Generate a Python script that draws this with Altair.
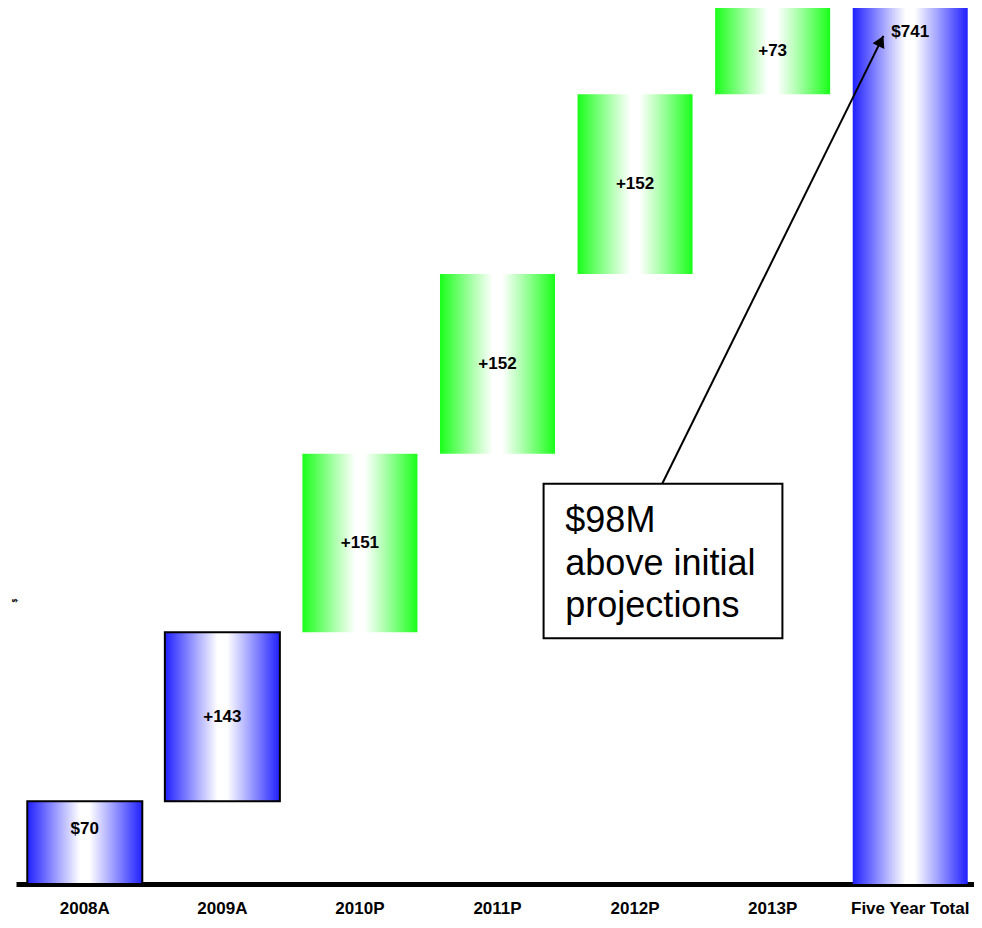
import altair as alt
import pandas as pd

# ---- data ----
categories = ["2008A", "2009A", "2010P", "2011P", "2012P", "2013P", "Five Year Total"]
bar_start = [0, 70, 213, 364, 516, 668, 0]
bar_end = [70, 213, 364, 516, 668, 741, 741]
bar_labels = ["$70", "+143", "+151", "+152", "+152", "+73", "$741"]
bar_kind = ["first", "blue", "green", "green", "green", "green", "total"]

note_lines = ["$98M", "above initial", "projections"]
note_box_x = [3.335, 5.071]
note_box_y = [207.9, 338.6]
note_text_xy = [3.493, 297.7]
arrow_x = [4.198, 5.805]
arrow_y = [338.8, 717.4]
arrow_head_xy = [5.787, 713.1]
arrow_angle = 26

df = pd.DataFrame({"cat": categories, "start": bar_start, "end": bar_end,
                   "label": bar_labels, "kind": bar_kind})

LABEL_FONT = "Liberation Sans, Arial, sans-serif"
YDOM = alt.Scale(domain=[0, 741], nice=False, zero=True)
XRANGE = [0, 963]


def grad(c, light):
    return alt.Gradient(
        gradient="linear", x1=0, x2=1, y1=0, y2=0,
        stops=[alt.GradientStop(color=c, offset=0),
               alt.GradientStop(color=light, offset=0.3),
               alt.GradientStop(color="#ffffff", offset=0.46),
               alt.GradientStop(color="#ffffff", offset=0.54),
               alt.GradientStop(color=light, offset=0.7),
               alt.GradientStop(color=c, offset=1)])


blue_grad = grad("#2020ff", "#b4b4ff")
green_grad = grad("#1aff1a", "#b4ffb4")

xscale = alt.Scale(paddingInner=0.164, paddingOuter=0.082, range=XRANGE)
xenc = alt.X("cat:N", sort=categories, scale=xscale,
             axis=alt.Axis(title=None, labelAngle=0, ticks=False, domain=True,
                           domainColor="black", domainWidth=5, labelFont=LABEL_FONT,
                           labelFontWeight="bold", labelFontSize=17, labelColor="black",
                           labelPadding=29, labelBaseline="alphabetic", grid=False))
yenc = alt.Y("start:Q", scale=YDOM,
             axis=alt.Axis(title="$", titleFontSize=7, titleFontWeight="bold",
                           labels=False, ticks=False, domain=False, grid=False,
                           titlePadding=0, titleColor="black", titleX=-2, titleY=592,
                           titleAngle=270, titleAlign="center", titleBaseline="middle"))

base = alt.Chart(df).encode(x=xenc, y=yenc, y2="end:Q")

blue_bars = base.transform_filter("datum.kind=='first' || datum.kind=='blue'").mark_bar(
    fill=blue_grad, stroke="black", strokeWidth=2)
green_bars = base.transform_filter("datum.kind=='green'").mark_bar(fill=green_grad)
total_bars = base.transform_filter("datum.kind=='total'").mark_bar(fill=blue_grad)

tbase = alt.Chart(df).transform_calculate(mid="(datum.start + datum.end) / 2")
tstyle = dict(font=LABEL_FONT, fontWeight="bold", fontSize=17, color="black", baseline="middle")
tx = alt.X("cat:N", sort=categories, scale=xscale)
text_inc = tbase.transform_filter("datum.kind=='blue' || datum.kind=='green'").mark_text(**tstyle).encode(
    x=tx, y=alt.Y("mid:Q", scale=YDOM), text="label:N")
text_first = tbase.transform_filter("datum.kind=='first'").mark_text(dy=-14, **tstyle).encode(
    x=tx, y=alt.Y("mid:Q", scale=YDOM), text="label:N")
text_total = tbase.transform_filter("datum.kind=='total'").mark_text(dy=24, **tstyle).encode(
    x=tx, y=alt.Y("end:Q", scale=YDOM), text="label:N")

bars = alt.layer(blue_bars, green_bars, total_bars, text_inc, text_first, text_total)

# ---- annotation (category-index units on an overlay scale) ----
QX = alt.Scale(domain=[-0.5, 6.5], nice=False, zero=False, range=XRANGE)
box_df = pd.DataFrame({"x": [note_box_x[0]], "x2": [note_box_x[1]],
                       "y": [note_box_y[0]], "y2": [note_box_y[1]]})
box = alt.Chart(box_df).mark_rect(fill="white", stroke="black", strokeWidth=2).encode(
    x=alt.X("x:Q", scale=QX, axis=None), x2="x2:Q",
    y=alt.Y("y:Q", scale=YDOM), y2="y2:Q")

note_df = pd.DataFrame({"x": [note_text_xy[0]], "y": [note_text_xy[1]],
                        "t": ["\n".join(note_lines)]})
note = alt.Chart(note_df).mark_text(
    align="left", baseline="alphabetic", fontSize=36, lineHeight=42.5, lineBreak="\n",
    font="Liberation Sans, Arial, sans-serif", color="black").encode(
    x=alt.X("x:Q", scale=QX, axis=None), y=alt.Y("y:Q", scale=YDOM), text="t:N")

arrow_df = pd.DataFrame({"x": arrow_x, "y": arrow_y, "o": [0, 1]})
arrow_line = alt.Chart(arrow_df).mark_line(color="black", strokeWidth=2).encode(
    x=alt.X("x:Q", scale=QX, axis=None), y=alt.Y("y:Q", scale=YDOM), order="o:Q")

head_df = pd.DataFrame({"x": [arrow_head_xy[0]], "y": [arrow_head_xy[1]]})
arrow_head = alt.Chart(head_df).mark_point(
    shape="triangle-up", filled=True, color="black", size=170, angle=arrow_angle, opacity=1).encode(
    x=alt.X("x:Q", scale=QX, axis=None), y=alt.Y("y:Q", scale=YDOM))

annot = alt.layer(box, note, arrow_line, arrow_head)

chart = alt.layer(bars, annot).resolve_scale(x="independent").properties(
    width=958, height=876,
    background="white",
    padding={"left": 8, "top": 0, "right": 0, "bottom": 34},
    autosize=alt.AutoSizeParams(type="none"),
).configure_view(stroke="transparent", strokeWidth=0)

chart.save("out.html", embed_options={"renderer": "svg", "actions": False})
